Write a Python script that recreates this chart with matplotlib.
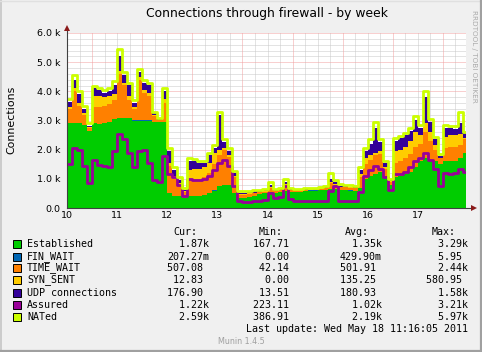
import numpy as np
import matplotlib
matplotlib.use("Agg")
import matplotlib.pyplot as plt
from matplotlib.patches import Rectangle
from matplotlib.lines import Line2D

W, H = 482, 352

# ---- data (sample times in days of month, 0.1 day apart) ----
t = np.round(np.arange(10.0, 17.95, 0.1), 1)
t_end = 17.96

established = [2900, 2900, 2900, 2850, 2650, 2900, 2880, 2900, 2950, 3050,
               3100, 3100, 3100, 3000, 3000, 3000, 3000, 2950, 2950, 2950,
               500, 400, 400, 350, 400, 400, 400, 450, 500, 600,
               750, 800, 800, 500, 350, 350, 380, 400, 480, 500,
               550, 520, 550, 580, 550, 550, 560, 580, 600, 600,
               620, 620, 650, 650, 620, 620, 600, 580, 700, 1000,
               1100, 1150, 1250, 1100, 800, 1050, 1100, 1150, 1250, 1400,
               1600, 1700, 1650, 1600, 1500, 1600, 1620, 1620, 1700, 1870]
fin_wait = [0.5, 0.4, 0.6, 0.3, 0.2, 0.5, 0.4, 0.4, 0.6, 0.5,
            0.7, 0.6, 0.5, 0.4, 0.6, 0.5, 0.5, 0.3, 0.2, 0.4,
            0.5, 0.4, 0.3, 0.2, 0.4, 0.4, 0.4, 0.4, 0.5, 0.6,
            0.8, 0.6, 0.5, 0.3, 0.1, 0.1, 0.1, 0.2, 0.2, 0.2,
            0.3, 0.2, 0.2, 0.4, 0.2, 0.1, 0.1, 0.1, 0.1, 0.1,
            0.1, 0.2, 0.4, 0.3, 0.2, 0.1, 0.1, 0.1, 0.3, 0.5,
            0.6, 0.7, 0.6, 0.4, 0.2, 0.5, 0.5, 0.6, 0.6, 0.7,
            0.6, 0.8, 0.6, 0.4, 0.2, 0.5, 0.5, 0.5, 0.5, 0.2]
time_wait = [500, 1100, 600, 350, 100, 550, 570, 600, 600, 650,
             1500, 1100, 600, 400, 1400, 950, 850, 200, 50, 650,
             950, 600, 400, 200, 550, 600, 600, 600, 700, 900,
             1050, 1200, 950, 550, 100, 100, 100, 100, 70, 60,
             150, 60, 70, 220, 70, 50, 40, 40, 30, 40,
             40, 60, 200, 150, 100, 100, 100, 100, 350, 500,
             550, 650, 600, 250, 100, 500, 500, 550, 600, 700,
             600, 900, 650, 400, 200, 450, 480, 480, 450, 507]
syn_sent = [50, 100, 100, 50, 30, 400, 400, 300, 300, 200,
            100, 100, 150, 50, 100, 100, 100, 50, 20, 150,
            100, 100, 50, 30, 350, 350, 350, 350, 350, 400,
            200, 50, 50, 50, 20, 20, 20, 20, 10, 10,
            20, 10, 10, 20, 10, 10, 10, 10, 10, 10,
            10, 10, 50, 20, 10, 10, 10, 10, 100, 200,
            150, 100, 100, 50, 20, 400, 400, 400, 450, 500,
            300, 300, 300, 150, 20, 400, 400, 400, 400, 13]
udp = [200, 300, 300, 150, 40, 250, 200, 150, 150, 300,
       500, 250, 350, 150, 150, 250, 250, 50, 30, 250,
       400, 200, 100, 40, 300, 250, 200, 150, 250, 150,
       1200, 200, 150, 100, 50, 50, 50, 50, 20, 30,
       80, 30, 20, 80, 20, 10, 20, 20, 20, 20,
       20, 20, 100, 60, 30, 20, 20, 20, 150, 250,
       400, 850, 300, 150, 30, 350, 400, 400, 350, 400,
       250, 900, 350, 200, 60, 300, 250, 220, 350, 177]
assured = [1500, 2050, 2000, 1450, 850, 1650, 1480, 1450, 1400, 1950,
           2550, 2350, 1900, 1400, 1950, 2000, 1550, 950, 880, 1800,
           1150, 1050, 800, 400, 1000, 970, 970, 1000, 1100, 1300,
           1550, 1650, 1450, 750, 250, 220, 220, 250, 250, 280,
           500, 350, 380, 750, 300, 250, 230, 230, 230, 230,
           230, 250, 600, 750, 250, 230, 230, 250, 550, 1100,
           1300, 1450, 1350, 1050, 620, 1150, 1150, 1250, 1400, 1600,
           1700, 1900, 1650, 1350, 750, 1200, 1180, 1200, 1350, 1220]
nated = [3750, 4550, 4000, 3500, 2900, 4180, 4120, 4050, 4100, 4350,
         5450, 4650, 4300, 3700, 4750, 4400, 4300, 3300, 3100, 4100,
         2050, 1400, 1050, 700, 1720, 1680, 1620, 1620, 1900, 2150,
         3300, 2350, 2050, 1280, 580, 570, 600, 620, 620, 640,
         880, 660, 700, 1000, 700, 650, 660, 680, 700, 700,
         720, 750, 1200, 950, 820, 800, 780, 750, 1400, 2050,
         2350, 2950, 2350, 1620, 1000, 2400, 2480, 2580, 2750, 3150,
         2850, 4000, 3050, 2450, 1850, 2850, 2820, 2800, 3300, 2620]

series_names = ["Established", "FIN_WAIT", "TIME_WAIT", "SYN_SENT",
                "UDP connections", "Assured", "NATed"]
series_colors = ["#00CC00", "#0066B3", "#FF8000", "#FFCC00",
                 "#330099", "#990099", "#CCFF00"]
cur_vals = ["  1.87k", "207.27m", "507.08 ", " 12.83 ", "176.90 ", "  1.22k", "  2.59k"]
min_vals = ["167.71 ", "  0.00 ", " 42.14 ", "  0.00 ", " 13.51 ", "223.11 ", "386.91 "]
avg_vals = ["  1.35k", "429.90m", "501.91 ", "135.25 ", "180.93 ", "  1.02k", "  2.19k"]
max_vals = ["  3.29k", "  5.95 ", "  2.44k", "580.95 ", "  1.58k", "  3.21k", "  5.97k"]

y_ticks = [0, 1000, 2000, 3000, 4000, 5000, 6000]
y_ticklabels = ["0.0", "1.0 k", "2.0 k", "3.0 k", "4.0 k", "5.0 k", "6.0 k"]
x_ticks = [10, 11, 12, 13, 14, 15, 16, 17]
x_ticklabels = ["10", "11", "12", "13", "14", "15", "16", "17"]

# ---- figure ----
fig = plt.figure(figsize=(W / 100, H / 100), dpi=100, facecolor="#F0F0F0")


def fx(x):
    return x / W


def fy(y):
    return 1 - y / H


L, R, T, B = 67, 466, 33, 208
ax = fig.add_axes([fx(L), fy(B), (R - L) / W, (B - T) / H])
ax.set_facecolor("white")
ax.set_xlim(10, t_end)
ax.set_ylim(0, 6000)
for s in ax.spines.values():
    s.set_visible(False)

# grid
dot = (0, (1, 1))
for v in range(200, 6000, 200):
    if v % 1000:
        ax.axhline(v, color="#C8C8C8", lw=0.72, ls=dot, zorder=0.5)
for v in range(1000, 6001, 1000):
    ax.axhline(v, color="#F2A0A0", lw=0.72, ls=dot, zorder=0.6)
for k in range(0, 32):
    v = 10 + k * 0.25
    if v > t_end:
        break
    if abs((v % 1) - 0.5) < 1e-6:
        ax.axvline(v, color="#F2A0A0", lw=0.72, ls=dot, zorder=0.6)
    elif v > 10:
        ax.axvline(v, color="#C8C8C8", lw=0.72, ls=dot, zorder=0.5)

# stacked areas
xs = np.append(t, t_end)
stack = [established, fin_wait, time_wait, syn_sent, udp]
bottom = np.zeros(len(xs))
for vals, col in zip(stack, series_colors[:5]):
    v = np.append(np.array(vals, float), vals[-1])
    ax.fill_between(xs, bottom, bottom + v, step="post", color=col, lw=0, zorder=2)
    bottom = bottom + v

# lines
for vals, col, z in [(assured, series_colors[5], 3), (nated, series_colors[6], 4)]:
    v = np.append(np.array(vals, float), vals[-1])
    ax.step(xs, v, where="post", color=col, lw=2.0, zorder=z)

# axes lines and arrows
dpd = (R - L) / (t_end - 10)  # px per day
upp = 6000 / (B - T)  # units per px
ax.add_line(Line2D([10, t_end + 8 / dpd], [0, 0], color="#404040", lw=0.8,
                   clip_on=False, zorder=5))
ax.add_line(Line2D([10, 10], [0, 6000 + 5 * upp], color="#404040", lw=0.8,
                   clip_on=False, zorder=5))
ax.plot([t_end + 8 / dpd], [0], marker=">", ms=4.5, color="#8B1A1A",
        clip_on=False, zorder=6, mew=0)
ax.plot([10], [6000 + 5 * upp], marker="^", ms=4.5, color="#8B1A1A",
        clip_on=False, zorder=6, mew=0)

# ticks
ax.set_yticks(y_ticks)
ax.set_yticklabels(y_ticklabels)
ax.set_xticks(x_ticks)
ax.set_xticklabels(x_ticklabels)
ax.tick_params(axis="y", length=0, pad=4.5, labelsize=6.8, colors="#000000")
ax.tick_params(axis="x", length=0, pad=2.5, labelsize=6.8, colors="#000000")
for lab in ax.get_yticklabels() + ax.get_xticklabels():
    lab.set_family("DejaVu Sans")

# texts
fig.text(fx((L + R) / 2), fy(14), "Connections through firewall - by week",
         ha="center", va="center", fontsize=8.9, family="DejaVu Sans")
fig.text(fx(11), fy(120), "Connections", rotation=90, ha="center", va="center",
         fontsize=7.9, family="DejaVu Sans")
fig.text(fx(474), fy(56), "RRDTOOL / TOBI OETIKER", rotation=270, ha="center",
         va="center", fontsize=5.2, color="#AAAAAA", family="DejaVu Sans")

mono = dict(family="DejaVu Sans Mono", fontsize=7.2, va="center")
col_x = [167, 253, 340, 426]
hdr_x = [173, 259, 345, 432]
for hx, h in zip(hdr_x, ["Cur:", "Min:", "Avg:", "Max:"]):
    fig.text(fx(hx), fy(232), h, ha="left", **mono)

row_y = [244, 257, 268, 280, 293, 305, 317]
for i, name in enumerate(series_names):
    y = row_y[i]
    fig.patches.append(Rectangle((fx(13), fy(y + 4)), 8 / W, 8 / H,
                                 transform=fig.transFigure,
                                 facecolor=series_colors[i],
                                 edgecolor="black", lw=0.7))
    fig.text(fx(27), fy(y), name, ha="left", **mono)
    for cx, val in zip(col_x, [cur_vals[i], min_vals[i], avg_vals[i], max_vals[i]]):
        fig.text(fx(cx), fy(y), val, ha="left", **mono)

fig.text(fx(468), fy(329), "Last update: Wed May 18 11:16:05 2011", ha="right", **mono)
fig.text(fx(241), fy(341), "Munin 1.4.5", ha="center", va="center",
         fontsize=5.8, color="#A0A0A0", family="DejaVu Sans")

# outer frame
fig.add_artist(Line2D([fx(0.5), fx(0.5)], [0, 1], color="#CCCCCC", lw=1.4,
                      transform=fig.transFigure))
fig.add_artist(Line2D([0, 1], [fy(0.5), fy(0.5)], color="#E0E0E0", lw=1.0,
                      transform=fig.transFigure))
fig.add_artist(Line2D([fx(W - 1), fx(W - 1)], [0, 1], color="#A0A0A0", lw=1.6,
                      transform=fig.transFigure))
fig.add_artist(Line2D([0, 1], [fy(H - 1), fy(H - 1)], color="#A0A0A0", lw=1.6,
                      transform=fig.transFigure))

fig.savefig("out.png", dpi=100, facecolor=fig.get_facecolor())
